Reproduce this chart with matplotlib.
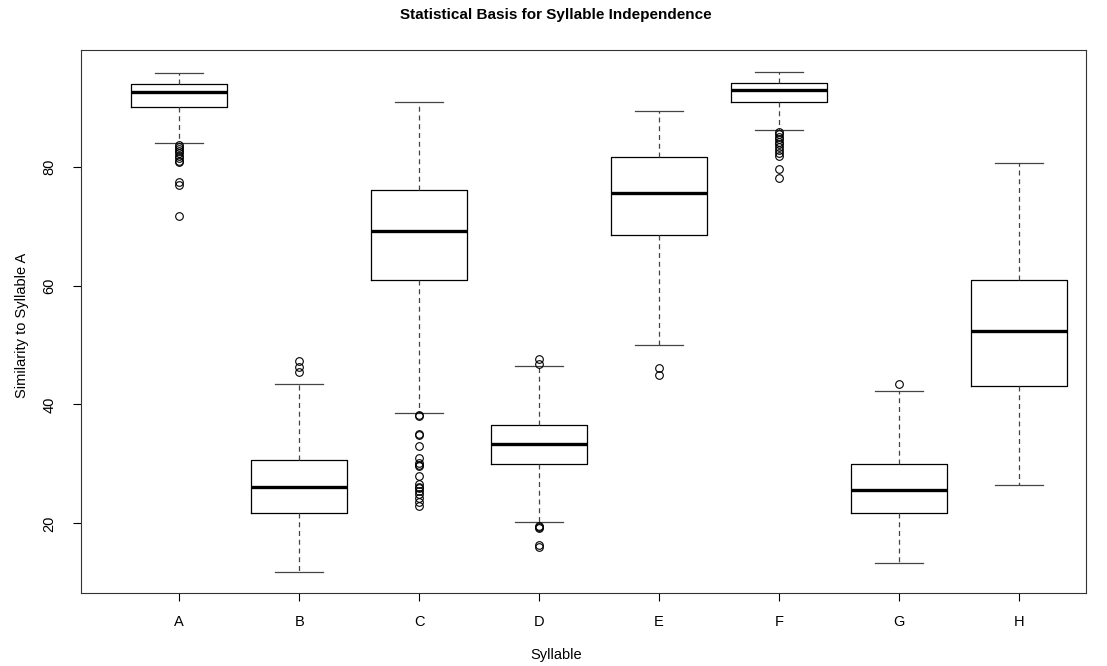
import numpy as np
import matplotlib.pyplot as plt

plt.rcParams['font.family'] = ['Liberation Sans', 'DejaVu Sans']

# box statistics (R style boxplot)
syllables = ["A", "B", "C", "D", "E", "F", "G", "H"]
whis_lo = [83.9, 11.8, 38.6, 20.3, 50.0, 86.1, 13.3, 26.5]
q1      = [90.1, 21.8, 60.9, 29.95, 68.5, 90.8, 21.75, 43.1]
med     = [92.5, 26.1, 69.1, 33.3, 75.6, 92.8, 25.6, 52.3]
q3      = [93.9, 30.7, 76.1, 36.6, 81.6, 94.0, 30.0, 60.9]
whis_hi = [95.8, 43.4, 90.8, 46.4, 89.3, 95.9, 42.3, 80.6]

fliers_a = [83.6, 83.3, 83.0, 82.6, 82.2, 81.8, 81.4, 81.0, 80.7, 77.4, 76.9, 71.7]
fliers_b = [47.3, 46.3, 45.5]
fliers_c = [38.0, 38.2, 35.1, 34.9, 33.1, 31.0, 30.2, 29.9, 29.6, 28.0,
            26.6, 26.2, 25.9, 25.5, 25.0, 24.3, 23.6, 23.0]
fliers_d = [47.6, 46.8, 19.6, 19.4, 19.2, 16.4, 16.0]
fliers_e = [46.2, 45.0]
fliers_f = [85.8, 85.4, 85.0, 84.6, 84.2, 83.8, 83.3, 82.8, 82.3, 81.8, 79.6, 78.0]
fliers_g = [43.5]
fliers_h = []
all_fliers = [fliers_a, fliers_b, fliers_c, fliers_d, fliers_e, fliers_f, fliers_g, fliers_h]

stats = []
for i in range(len(syllables)):
    stats.append({'label': syllables[i], 'whislo': whis_lo[i], 'q1': q1[i], 'med': med[i],
                  'q3': q3[i], 'whishi': whis_hi[i], 'fliers': np.array(all_fliers[i])})

fig = plt.figure(figsize=(11.07, 6.66), dpi=100)
ax = fig.add_axes([81/1107, 1-593/666, (1086-81)/1107, (593-50)/666])

ax.bxp(stats, positions=range(1, len(syllables)+1), widths=0.8,
       boxprops=dict(color='black', linewidth=0.9),
       medianprops=dict(color='black', linewidth=2.4, solid_capstyle='butt'),
       whiskerprops=dict(color='#444444', linewidth=0.9, linestyle=(0, (4, 3))),
       capprops=dict(color='#444444', linewidth=0.9),
       flierprops=dict(marker='o', markerfacecolor='none', markeredgecolor='black',
                       markersize=5.5, markeredgewidth=0.8, linestyle='none'))

ax.set_xlim(0.18, 8.56)
ax.set_ylim(8.3, 99.6)
ax.set_yticks([20, 40, 60, 80])
ax.set_yticklabels(["20", "40", "60", "80"], rotation=90, va='center')
ax.tick_params(axis='both', direction='out', length=5.5, width=0.8, labelsize=10.5, colors='black')
ax.tick_params(axis='y', pad=12)
ax.tick_params(axis='x', pad=10)
for s in ax.spines.values():
    s.set_linewidth(0.8)
    s.set_color('#333333')

fig.text(556/1107, 1-15/666, "Statistical Basis for Syllable Independence",
         ha='center', va='center', fontsize=11, fontweight='bold')
fig.text(556/1107, 1-655/666, "Syllable", ha='center', va='center', fontsize=10.5)
fig.text(22/1107, 1-325/666, "Similarity to Syllable A", ha='center', va='center',
         rotation=90, fontsize=10.5)

fig.savefig("out.png", dpi=100)
